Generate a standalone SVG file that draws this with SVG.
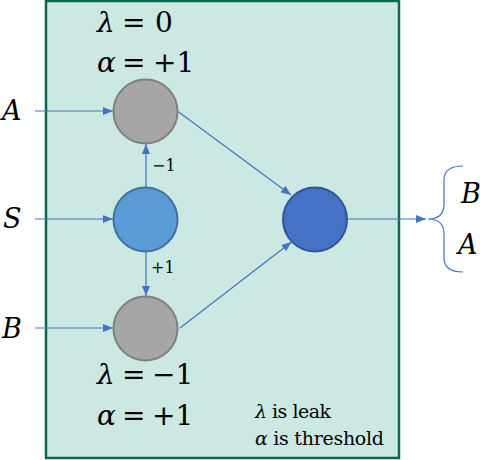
<svg xmlns="http://www.w3.org/2000/svg" width="480" height="460" viewBox="0 0 480 460">
<defs>
<marker id="ah" markerWidth="10" markerHeight="8" refX="10" refY="4" orient="auto" markerUnits="userSpaceOnUse">
<path d="M0,0 L10,4 L0,8 Z" fill="#4472c4"/>
</marker>
<style>
.conn{stroke:#4472c4;stroke-width:1.2;fill:none}
.gray{fill:#a6a6a6;stroke:#7f7f7f;stroke-width:2}
.it{font-style:italic}
text{font-family:'DejaVu Serif','Liberation Serif',serif}
</style>
</defs>
<rect id="panel" x="46" y="1" width="353" height="457" fill="#cce8e2" stroke="#0b6652" stroke-width="2.5"/>
<g id="connectors">
<line class="conn" x1="35" y1="111" x2="113" y2="111" marker-end="url(#ah)"/>
<line class="conn" x1="35" y1="219" x2="113" y2="219" marker-end="url(#ah)"/>
<line class="conn" x1="35" y1="328" x2="113" y2="328" marker-end="url(#ah)"/>
<line class="conn" x1="146" y1="187" x2="146" y2="144" marker-end="url(#ah)"/>
<line class="conn" x1="146" y1="252" x2="146" y2="296" marker-end="url(#ah)"/>
<line class="conn" x1="178" y1="111.5" x2="291" y2="195" marker-end="url(#ah)"/>
<line class="conn" x1="180" y1="328" x2="291.5" y2="242" marker-end="url(#ah)"/>
<line class="conn" x1="347" y1="219" x2="426" y2="219" marker-end="url(#ah)"/>
<path class="conn" d="M463,166 C448,166 444,172 444,180 L444,204 C444,214 438,219 428,219 C438,219 444,224 444,234 L444,258 C444,266 448,272 463,272"/>
</g>
<g fill="#000">
<g id="input-A"><text class="it" x="2" y="120" font-size="27">A</text></g>
<g id="input-S"><text class="it" x="3" y="228" font-size="27">S</text></g>
<g id="input-B"><text class="it" x="2" y="338" font-size="27">B</text></g>
<g id="node-top">
<circle class="gray" cx="145.5" cy="111.5" r="32"/>
<text y="32" font-size="28"><tspan class="it" x="97">λ</tspan><tspan x="122">=</tspan><tspan x="155">0</tspan></text>
<text y="72" font-size="28"><tspan class="it" x="97">α</tspan><tspan x="122">=</tspan><tspan x="153">+1</tspan></text>
</g>
<g id="node-S">
<circle cx="145.5" cy="219.5" r="32" fill="#5b9bd5" stroke="#41719c" stroke-width="2"/>
<text x="152" y="171" font-size="16">−1</text>
<text x="151" y="273" font-size="16">+1</text>
</g>
<g id="node-bottom">
<circle class="gray" cx="145.5" cy="328.5" r="32"/>
<text y="384" font-size="28"><tspan class="it" x="97">λ</tspan><tspan x="122">=</tspan><tspan x="152">−1</tspan></text>
<text y="425" font-size="28"><tspan class="it" x="97">α</tspan><tspan x="122">=</tspan><tspan x="152">+1</tspan></text>
</g>
<g id="node-out">
<circle cx="315" cy="219.5" r="32" fill="#4472c4" stroke="#2f5597" stroke-width="2"/>
</g>
<g id="output-labels">
<text class="it" x="461" y="203" font-size="27">B</text>
<text class="it" x="458" y="254" font-size="27">A</text>
</g>
<g id="legend">
<text x="255" y="418" font-size="19" textLength="76"><tspan class="it">λ</tspan> is leak</text>
<text x="255" y="445" font-size="19" textLength="129"><tspan class="it">α</tspan> is threshold</text>
</g>
</g>
</svg>
